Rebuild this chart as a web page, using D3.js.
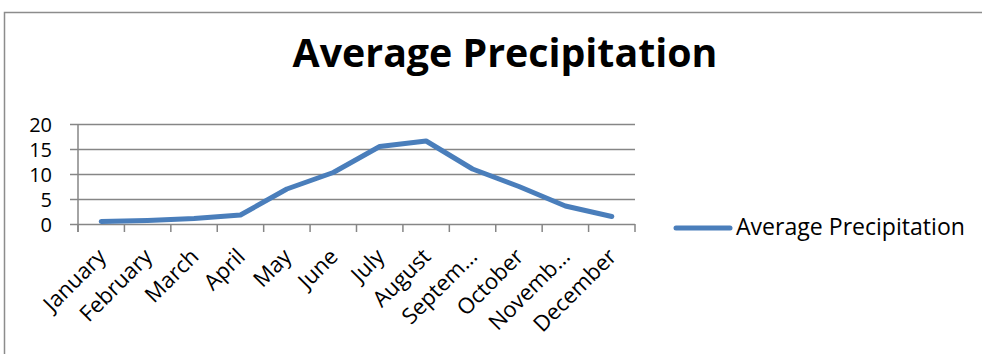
<!DOCTYPE html>
<html lang="en">
<head>
   <meta charset="UTF-8">
   <title>Average Precipitation</title>
   <script src="https://cdn.jsdelivr.net/npm/d3@7"></script>
   <style>
      html, body {
         margin: 0;
         padding: 0;
         background: #fff;
         overflow: hidden;
      }
      text {
         font-family: 'Open Sans', sans-serif;
         fill: #000;
      }
      .grid line {
         stroke: #868686;
         stroke-width: 1.5;
      }
      .line {
         fill: none;
         stroke: #4A7EBB;
         stroke-width: 5;
         stroke-linejoin: round;
         stroke-linecap: round;
      }
   </style>
</head>
<body>
   <svg id="chart"></svg>
   <script>
      // data
      const months = ['January', 'February', 'March', 'April', 'May', 'June',
         'July', 'August', 'September', 'October', 'November', 'December']
      const monthLabels = ['January', 'February', 'March', 'April', 'May', 'June',
         'July', 'August', 'Septem\u2026', 'October', 'Novemb\u2026', 'December']
      const precipitation = [0.5, 0.7, 1.1, 1.8, 7.0, 10.3, 15.5, 16.6, 11.0, 7.5, 3.6, 1.5]
      const yTicks = [0, 5, 10, 15, 20]
      const seriesName = 'Average Precipitation'

      const W = 982, H = 354
      const svg = d3.select('#chart').attr('width', W).attr('height', H)

      // outer frame
      svg.append('rect')
         .attr('x', 4.5).attr('y', 12.5)
         .attr('width', W).attr('height', H)
         .attr('fill', 'none')
         .attr('stroke', '#8c8c8c')
         .attr('stroke-width', 1.5)

      const plot = { left: 78, right: 635, top: 124, bottom: 224 }

      const x = d3.scaleBand()
         .domain(months)
         .range([plot.left, plot.right])

      const y = d3.scaleLinear()
         .domain([0, 20])
         .range([plot.bottom, plot.top])

      // title, fitted to the width it has in the reference
      const title = svg.append('text')
         .attr('x', 505).attr('y', 67)
         .attr('text-anchor', 'middle')
         .style('font-weight', 'bold')
         .style('font-size', '37px')
         .text('Average Precipitation')
      const tw = title.node().getComputedTextLength()
      title.style('font-size', (37 * 425 / tw) + 'px')

      // horizontal grid + y labels
      const yAxis = d3.axisLeft(y)
         .tickValues(yTicks)
         .tickSize(-(plot.right - plot.left))
         .tickSizeOuter(0)
         .tickPadding(0)
      const yg = svg.append('g')
         .attr('class', 'grid')
         .attr('transform', `translate(${plot.left},0)`)
         .call(yAxis)
      yg.select('.domain').remove()
      yg.selectAll('.tick line')
         .attr('x1', -8)
      yg.selectAll('.tick text')
         .attr('x', -26)
         .attr('dy', '0.36em')
         .style('font-size', '20px')
         .attr('fill', '#000')

      // vertical axis line
      svg.append('g').attr('class', 'grid')
         .append('line')
         .attr('x1', plot.left).attr('x2', plot.left)
         .attr('y1', y(20)).attr('y2', y(0) + 8)

      // category tick marks on the bottom axis
      const edges = months.map(m => x(m)).concat([plot.right])
      svg.append('g').attr('class', 'grid')
         .selectAll('line')
         .data(edges)
         .join('line')
         .attr('x1', d => d).attr('x2', d => d)
         .attr('y1', y(0)).attr('y2', y(0) + 8)

      // rotated month labels
      svg.append('g')
         .selectAll('text')
         .data(months)
         .join('text')
         .attr('text-anchor', 'end')
         .attr('transform', d => `translate(${x(d) + x.bandwidth() / 2 + 6},${y(0) + 34}) rotate(-45)`)
         .style('font-size', '22px')
         .text((d, i) => monthLabels[i])

      // series line
      const line = d3.line()
         .x((d, i) => x(months[i]) + x.bandwidth() / 2)
         .y(d => y(d))
      svg.append('path')
         .datum(precipitation)
         .attr('class', 'line')
         .attr('d', line)

      // legend
      const lg = svg.append('g').attr('transform', 'translate(676,228)')
      lg.append('line')
         .attr('class', 'line')
         .attr('x1', 0).attr('x2', 54)
         .attr('y1', 0).attr('y2', 0)
      const lt = lg.append('text')
         .attr('x', 60).attr('y', 7)
         .style('font-size', '20px')
         .text(seriesName)
      const lw = lt.node().getComputedTextLength()
      lt.style('font-size', (20 * 229 / lw) + 'px')
   </script>
</body>
</html>
